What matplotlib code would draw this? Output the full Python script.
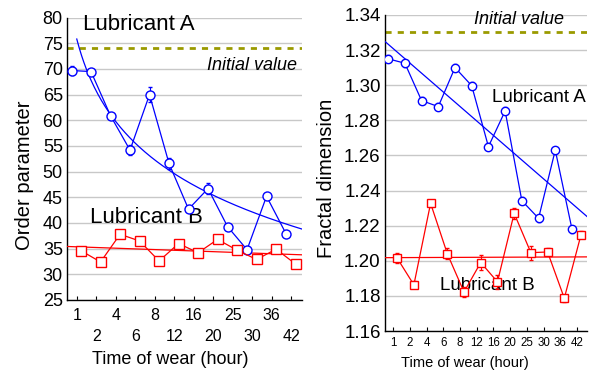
import numpy as np
import matplotlib
matplotlib.use("Agg")
import matplotlib.pyplot as plt

plt.rcParams['font.family'] = ['Liberation Sans', 'DejaVu Sans']

# ---- data ----
times = ['1', '2', '4', '6', '8', '12', '16', '20', '25', '30', '36', '42']

order_A = [69.7, 69.5, 60.9, 54.2, 65.0, 51.6, 42.7, 46.7, 39.3, 34.8, 45.2, 37.9]
order_A_err = [0.8, 0.5, 0.6, 1.0, 1.4, 1.1, 0.6, 1.0, 0.5, 0.6, 0.5, 0.5]
order_B = [34.6, 32.4, 37.8, 36.5, 32.6, 36.0, 34.2, 36.8, 34.7, 32.9, 34.9, 32.0]
order_B_err = [0.4, 0.3, 0.4, 0.4, 0.3, 0.4, 0.4, 0.4, 0.3, 0.3, 0.4, 0.3]
order_initial = 74.0

fract_A = [1.315, 1.3125, 1.2912, 1.2878, 1.310, 1.2997, 1.265, 1.2853, 1.2342, 1.2242, 1.263, 1.218]
fract_A_err = [0.002, 0.002, 0.002, 0.002, 0.002, 0.002, 0.002, 0.002, 0.002, 0.002, 0.002, 0.002]
fract_B = [1.2015, 1.1863, 1.2327, 1.204, 1.1822, 1.199, 1.188, 1.227, 1.2046, 1.205, 1.1787, 1.2148]
fract_B_err = [0.003, 0.002, 0.002, 0.003, 0.003, 0.004, 0.004, 0.003, 0.004, 0.002, 0.002, 0.002]
fract_initial = 1.33

# ---- style ----
BLUE = '#0000ff'
RED = '#ff0000'
OLIVE = '#9a9a00'
GRID = '#c8c8c8'

fig = plt.figure(figsize=(5.92, 3.71), dpi=100)
ax1 = fig.add_axes([0.1132, 0.1914, 0.397, 0.761])
ax2 = fig.add_axes([0.650, 0.1078, 0.3416, 0.852])

idx = np.arange(len(times))


def style_axes(ax):
    for s in ['top', 'right']:
        ax.spines[s].set_visible(False)
    for s in ['left', 'bottom']:
        ax.spines[s].set_linewidth(1.0)
        ax.spines[s].set_color('black')
    ax.yaxis.grid(True, color=GRID, lw=1.0)
    ax.set_axisbelow(True)
    ax.tick_params(axis='y', length=0, pad=3)
    ax.tick_params(axis='x', direction='in', length=3, width=0.8)


# ================= left: order parameter =================
ax = ax1
style_axes(ax)
xa = idx - 0.27
xb = idx + 0.22
ax.axhline(order_initial, color=OLIVE, lw=2, ls=(0, (2.2, 2.2)), zorder=2)
ax.errorbar(xa, order_A, yerr=order_A_err, color=BLUE, lw=0.9, marker='o', ms=6.5,
            mfc='white', mec=BLUE, mew=1.0, capsize=1.5, elinewidth=0.8, zorder=4)
ax.errorbar(xb, order_B, yerr=order_B_err, color=RED, lw=0.9, marker='s', ms=6.5,
            mfc='white', mec=RED, mew=1.0, capsize=1.5, elinewidth=0.8, zorder=4)
# fits
ka = np.polyfit(np.log(idx + 1.0), order_A, 1)
xf = np.linspace(0, 12, 200)
ax.plot(xf, np.polyval(ka, np.log(xf + 1.0)), color=BLUE, lw=0.9, zorder=3)
kb = np.polyfit(idx, order_B, 1)
xl = np.array([-1, 13])
ax.plot(xl, np.polyval(kb, xl), color=RED, lw=0.9, zorder=3)

ax.set_xlim(-0.5, 11.55)
ax.set_ylim(25, 80)
ax.set_yticks(np.arange(25, 81, 5))
ax.tick_params(axis='y', labelsize=13)
labels = [t if i % 2 == 0 else '\n' + t for i, t in enumerate(times)]
ax.set_xticks(idx)
ax.set_xticklabels(labels, fontsize=11.5, linespacing=1.45)
ax.tick_params(axis='x', pad=6)
ax.set_xlabel('Time of wear (hour)', fontsize=13)
ax.xaxis.set_label_coords(0.438, -0.2125)
ax.xaxis.label.set_va('center')
ax.set_ylabel('Order parameter', fontsize=14.5)
ax.yaxis.set_label_coords(-0.183, 0.443)
ax.yaxis.label.set_va('center')

ax.text(0.31, 78.6, 'Lubricant A', fontsize=16, ha='left', va='center')
ax.text(11.28, 70.6, 'Initial value', fontsize=13, style='italic', ha='right', va='center')
ax.text(0.67, 41.0, 'Lubricant B', fontsize=16, ha='left', va='center')

# ================= right: fractal dimension =================
ax = ax2
style_axes(ax)
xa = idx - 0.30
xb = idx + 0.24
ax.axhline(fract_initial, color=OLIVE, lw=2, ls=(0, (2.2, 2.2)), zorder=2)
ax.errorbar(xa, fract_A, yerr=fract_A_err, color=BLUE, lw=0.9, marker='o', ms=6.0,
            mfc='white', mec=BLUE, mew=1.0, capsize=1.5, elinewidth=0.8, zorder=4)
ax.errorbar(xb, fract_B, yerr=fract_B_err, color=RED, lw=0.9, marker='s', ms=6.0,
            mfc='white', mec=RED, mew=1.0, capsize=1.5, elinewidth=0.8, zorder=4)
ka2 = np.polyfit(idx, fract_A, 1)
kb2 = np.polyfit(idx, fract_B, 1)
ax.plot(xl, np.polyval(ka2, xl), color=BLUE, lw=0.9, zorder=3)
ax.plot(xl, np.polyval(kb2, xl), color=RED, lw=0.9, zorder=3)

ax.set_xlim(-0.5, 11.6)
ax.set_ylim(1.16, 1.34)
ax.set_yticks(np.round(np.arange(1.16, 1.341, 0.02), 2))
ax.set_yticklabels([f'{v:.2f}' for v in np.arange(1.16, 1.341, 0.02)])
ax.tick_params(axis='y', labelsize=13.5)
ax.set_xticks(idx)
ax.set_xticklabels(times, fontsize=8.3)
ax.tick_params(axis='x', pad=4.5)
ax.set_xlabel('Time of wear (hour)', fontsize=10.5)
ax.xaxis.set_label_coords(0.394, -0.100)
ax.xaxis.label.set_va('center')
ax.set_ylabel('Fractal dimension', fontsize=14.5)
ax.yaxis.set_label_coords(-0.289, 0.483)
ax.yaxis.label.set_va('center')

ax.text(4.84, 1.3372, 'Initial value', fontsize=13, style='italic', ha='left', va='center')
ax.text(5.92, 1.2929, 'Lubricant A', fontsize=13.5, ha='left', va='center')
ax.text(2.81, 1.1861, 'Lubricant B', fontsize=13.5, ha='left', va='center')

fig.savefig('out.png', dpi=100)
